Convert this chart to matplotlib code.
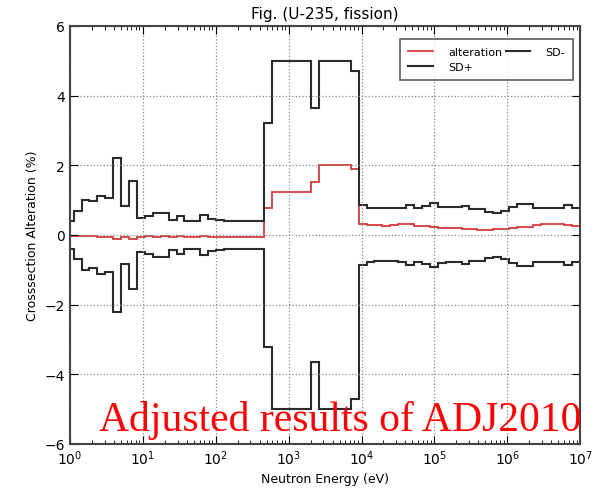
import numpy as np
import matplotlib
matplotlib.use("Agg")
from matplotlib import pyplot as plt

# group structure: 0.25 lethargy width below 10 MeV (lowest group first)
lethargy_width = 0.25
n_groups = 65
edges = 1e7 * np.exp(-lethargy_width * np.arange(n_groups, -1, -1))

# standard deviation (%) per group, low energy -> high energy
sd_plus = [0.41, 0.70, 1.01, 0.96, 1.11, 1.05, 2.20, 0.82, 1.55, 0.48,
           0.54, 0.63, 0.63, 0.42, 0.54, 0.39, 0.39, 0.57, 0.46, 0.42,
           0.39, 0.39, 0.39, 0.39, 0.39,
           3.22, 5.0, 5.0, 5.0, 5.0, 5.0, 3.64, 5.0, 5.0, 5.0, 5.0, 4.70,
           0.86, 0.78, 0.76, 0.76, 0.76, 0.78, 0.86, 0.78, 0.83, 0.91,
           0.81, 0.79, 0.79, 0.84, 0.75, 0.75, 0.65, 0.63, 0.70, 0.80,
           0.89, 0.89, 0.78, 0.78, 0.78, 0.78, 0.86, 0.78]
sd_minus = [-v for v in sd_plus]

# cross section alteration (%) per group
alteration = [-0.02, -0.02, -0.02, -0.04, -0.05, -0.06, -0.13, -0.07, -0.11, -0.05,
              -0.04, -0.05, -0.04, -0.05, -0.04, -0.05, -0.05, -0.04, -0.05, -0.06,
              -0.06, -0.06, -0.06, -0.06, -0.06,
              0.77, 1.245, 1.245, 1.245, 1.245, 1.245, 1.51, 2.01, 2.01, 2.01, 2.01, 1.88,
              0.30, 0.29, 0.28, 0.27, 0.28, 0.31, 0.31, 0.26, 0.25, 0.22,
              0.21, 0.20, 0.19, 0.18, 0.16, 0.15, 0.15, 0.16, 0.17, 0.20,
              0.22, 0.24, 0.28, 0.30, 0.30, 0.30, 0.29, 0.27]

fig = plt.figure(figsize=(5.97, 4.89), dpi=100)
ax = fig.add_axes([0.117, 0.09, 0.855, 0.855])

ax.stairs(alteration, edges, baseline=None, color='#d43c3c', lw=1.3, label='alteration')
ax.stairs(sd_plus, edges, baseline=None, color='#2b2b2b', lw=1.5, label='SD+')
ax.stairs(sd_minus, edges, baseline=None, color='#2b2b2b', lw=1.5, label='SD-')

ax.set_xscale('log')
ax.set_xlim(1, 1e7)
ax.set_ylim(-6, 6)
ax.set_yticks([-6, -4, -2, 0, 2, 4, 6])
ax.grid(True, which='major', linestyle=':', color='#888888', lw=0.9)
ax.tick_params(which='both', direction='in', top=True, right=True, labelsize=10)
ax.tick_params(which='major', length=6)
ax.tick_params(which='minor', length=3)
for s in ax.spines.values():
    s.set_linewidth(1.5)
    s.set_color('#444444')

ax.set_title('Fig. (U-235, fission)', fontsize=11)
ax.set_xlabel('Neutron Energy (eV)', fontsize=9, labelpad=3)
ax.set_ylabel('Crosssection Alteration (%)', fontsize=9)

leg = ax.legend(loc='upper right', bbox_to_anchor=(0.986, 0.969), borderaxespad=0,
                ncol=2, fontsize=8, fancybox=False, handlelength=2.2,
                handletextpad=1.4, columnspacing=0.3, borderpad=0.7)
leg.get_frame().set_edgecolor('#333333')
leg.get_frame().set_linewidth(1.2)

fig.text(0.57, 0.118, 'Adjusted results of ADJ2010', color='red', ha='center',
         fontsize=30, family='Liberation Serif')

fig.savefig('out.png', dpi=100)
